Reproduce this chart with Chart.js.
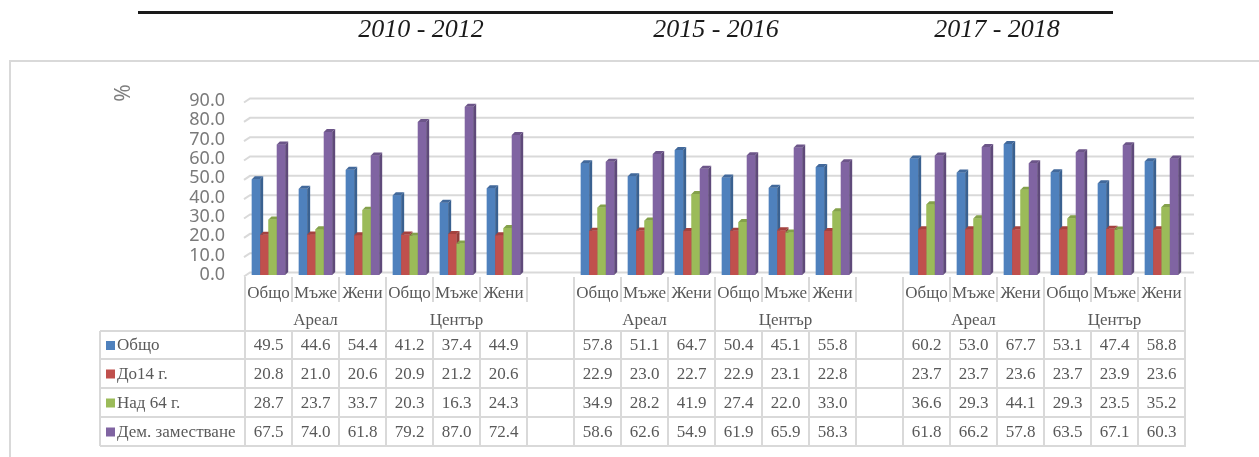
<!DOCTYPE html>
<html lang="bg">
<head>
  <meta charset="UTF-8">
  <title>Демографски показатели</title>
  <script src="https://cdn.jsdelivr.net/npm/chart.js@4.4.1/dist/chart.umd.min.js"></script>
  <style>
    body { margin: 0; background: #fff; }
    #wrap { position: relative; width: 1259px; height: 457px; }
  </style>
</head>
<body>
  <div id="wrap"><canvas id="chart" width="1259" height="457"></canvas></div>

  <script>
    // periods shown in the header
    const periods = ['2010 - 2012', '2015 - 2016', '2017 - 2018'];
    // categories (empty slot between periods)
    const categories = [
      'Общо', 'Мъже', 'Жени', 'Общо', 'Мъже', 'Жени', '',
      'Общо', 'Мъже', 'Жени', 'Общо', 'Мъже', 'Жени', '',
      'Общо', 'Мъже', 'Жени', 'Общо', 'Мъже', 'Жени'
    ];
    // second-level groups: [first index, last index + 1, label]
    const groups = [
      [0, 3, 'Ареал'], [3, 6, 'Център'],
      [7, 10, 'Ареал'], [10, 13, 'Център'],
      [14, 17, 'Ареал'], [17, 20, 'Център']
    ];
    const seriesNames = ['Общо', 'До14 г.', 'Над 64 г.', 'Дем. заместване'];
    const total = [49.5, 44.6, 54.4, 41.2, 37.4, 44.9, null,
                   57.8, 51.1, 64.7, 50.4, 45.1, 55.8, null,
                   60.2, 53.0, 67.7, 53.1, 47.4, 58.8];
    const under14 = [20.8, 21.0, 20.6, 20.9, 21.2, 20.6, null,
                     22.9, 23.0, 22.7, 22.9, 23.1, 22.8, null,
                     23.7, 23.7, 23.6, 23.7, 23.9, 23.6];
    const over64 = [28.7, 23.7, 33.7, 20.3, 16.3, 24.3, null,
                    34.9, 28.2, 41.9, 27.4, 22.0, 33.0, null,
                    36.6, 29.3, 44.1, 29.3, 23.5, 35.2];
    const replacement = [67.5, 74.0, 61.8, 79.2, 87.0, 72.4, null,
                         58.6, 62.6, 54.9, 61.9, 65.9, 58.3, null,
                         61.8, 66.2, 57.8, 63.5, 67.1, 60.3];
    const yTicks = [0, 10, 20, 30, 40, 50, 60, 70, 80, 90];

    const colors = ['#4f81bd', '#c0504d', '#9bbb59', '#8064a2'];
    const sideColors = ['#3a6190', '#923c3a', '#758e42', '#5f4a7a'];
    const topColors = ['#42699b', '#a4423f', '#84a14b', '#6c5589'];
    const gridColor = '#d9d9d9';
    const textColor = '#595959';
    const depth = 3;

    // frame, header and % label behind the plot
    const backdrop = {
      id: 'backdrop',
      beforeDraw(chart) {
        const ctx = chart.ctx;
        const y = chart.scales.y;
        ctx.save();
        ctx.fillStyle = '#fff';
        ctx.fillRect(0, 0, chart.width, chart.height);

        ctx.strokeStyle = gridColor;
        ctx.lineWidth = 2;
        ctx.beginPath();
        ctx.moveTo(10, chart.height + 5);
        ctx.lineTo(10, 61);
        ctx.lineTo(chart.width + 5, 61);
        ctx.stroke();

        ctx.fillStyle = '#1a1a1a';
        ctx.fillRect(138, 11, 975, 3);
        ctx.font = 'italic 26px "Liberation Serif"';
        ctx.textAlign = 'center';
        ctx.textBaseline = 'alphabetic';
        [421, 716, 997].forEach((cx, i) => ctx.fillText(periods[i], cx, 37));

        ctx.translate(124, 93);
        ctx.rotate(-Math.PI / 2);
        ctx.fillStyle = '#7f7f7f';
        ctx.font = '21px "Noto Sans"';
        ctx.textBaseline = 'middle';
        ctx.fillText('%', 0, 0);
        ctx.restore();

        // back wall gridlines
        const left = chart.chartArea.left;
        ctx.save();
        ctx.strokeStyle = gridColor;
        ctx.lineWidth = 2;
        yTicks.forEach(v => {
          const py = y.getPixelForValue(v) - 2.5;
          ctx.beginPath();
          ctx.moveTo(left - 1, py + 4);
          ctx.lineTo(left + 5, py);
          ctx.lineTo(chart.chartArea.right + 9, py);
          ctx.stroke();
        });
        ctx.restore();
      }
    };

    // redraw bars left to right with side and top faces
    const bars3d = {
      id: 'bars3d',
      afterDatasetsDraw(chart) {
        const ctx = chart.ctx;
        const metas = chart.data.datasets.map((d, i) => chart.getDatasetMeta(i));
        ctx.save();
        for (let j = 0; j < categories.length; j++) {
          metas.forEach((meta, i) => {
            if (chart.data.datasets[i].data[j] == null) return;
            const el = meta.data[j];
            const { x, y, base, width } = el.getProps(['x', 'y', 'base', 'width'], true);
            const l = x - width / 2, r = x + width / 2;
            ctx.fillStyle = colors[i];
            ctx.fillRect(l, y, width, base - y);
            ctx.fillStyle = sideColors[i];
            ctx.beginPath();
            ctx.moveTo(r, y);
            ctx.lineTo(r + depth, y - depth);
            ctx.lineTo(r + depth, base - depth);
            ctx.lineTo(r, base);
            ctx.closePath();
            ctx.fill();
            ctx.fillStyle = topColors[i];
            ctx.beginPath();
            ctx.moveTo(l, y);
            ctx.lineTo(l + depth, y - depth);
            ctx.lineTo(r + depth, y - depth);
            ctx.lineTo(r, y);
            ctx.closePath();
            ctx.fill();
          });
        }
        ctx.restore();
      }
    };

    // category axis labels and the data table underneath
    const dataTable = {
      id: 'dataTable',
      afterDraw(chart) {
        const ctx = chart.ctx;
        const xs = chart.scales.x;
        const slot = xs.width / categories.length;
        const bx = j => xs.left + j * slot;
        const rows = [331, 359, 388, 417, 446];
        const series = [total, under14, over64, replacement];
        const groupEdges = [0, 3, 7, 10, 14, 17, 20];

        ctx.save();
        ctx.strokeStyle = gridColor;
        ctx.lineWidth = 2;
        ctx.beginPath();
        for (let j = 0; j <= categories.length; j++) {
          const px = bx(j);
          ctx.moveTo(px, 277);
          ctx.lineTo(px, groupEdges.includes(j) ? rows[0] : 302);
        }
        rows.forEach(ry => {
          ctx.moveTo(100, ry);
          ctx.lineTo(xs.right + 1, ry);
        });
        [100, xs.left].forEach(px => {
          ctx.moveTo(px, rows[0]);
          ctx.lineTo(px, rows[rows.length - 1]);
        });
        for (let j = 1; j <= categories.length; j++) {
          ctx.moveTo(bx(j), rows[0]);
          ctx.lineTo(bx(j), rows[rows.length - 1]);
        }
        ctx.stroke();

        ctx.fillStyle = textColor;
        ctx.font = '17px "Liberation Serif"';
        ctx.textAlign = 'center';
        ctx.textBaseline = 'middle';
        categories.forEach((c, j) => ctx.fillText(c, bx(j) + slot / 2, 294));
        groups.forEach(([a, b, label]) => ctx.fillText(label, (bx(a) + bx(b)) / 2, 321));

        series.forEach((vals, i) => {
          const my = (rows[i] + rows[i + 1]) / 2 + 1;
          vals.forEach((v, j) => {
            if (v == null) return;
            ctx.fillText(v.toFixed(1), bx(j) + slot / 2, my);
          });
          ctx.fillStyle = colors[i];
          ctx.fillRect(106, my - 5, 9, 9);
          ctx.fillStyle = textColor;
          ctx.textAlign = 'left';
          ctx.fillText(seriesNames[i], 117, my);
          ctx.textAlign = 'center';
        });
        ctx.restore();
      }
    };

    new Chart(document.getElementById('chart'), {
      type: 'bar',
      data: {
        labels: categories,
        datasets: [total, under14, over64, replacement].map((vals, i) => ({
          label: seriesNames[i],
          data: vals,
          backgroundColor: colors[i],
          borderWidth: 0,
          categoryPercentage: 0.71,
          barPercentage: 1
        }))
      },
      options: {
        responsive: false,
        animation: false,
        layout: { padding: { top: 101, right: 74, bottom: 0, left: 0 } },
        plugins: { legend: { display: false }, tooltip: { enabled: false } },
        scales: {
          x: {
            ticks: { display: false },
            grid: { display: false },
            border: { display: false },
            afterFit: s => { s.height = 182; }
          },
          y: {
            min: 0,
            max: 90,
            afterBuildTicks: s => { s.ticks = yTicks.map(v => ({ value: v })); },
            ticks: {
              autoSkip: false,
              callback: v => v.toFixed(1),
              color: '#7a7a7a',
              font: { family: 'Noto Sans', size: 18 },
              padding: 20
            },
            grid: { display: false, drawTicks: false },
            border: { display: false },
            afterFit: s => { s.width = 245; }
          }
        }
      },
      plugins: [backdrop, bars3d, dataTable]
    });
  </script>
</body>
</html>
